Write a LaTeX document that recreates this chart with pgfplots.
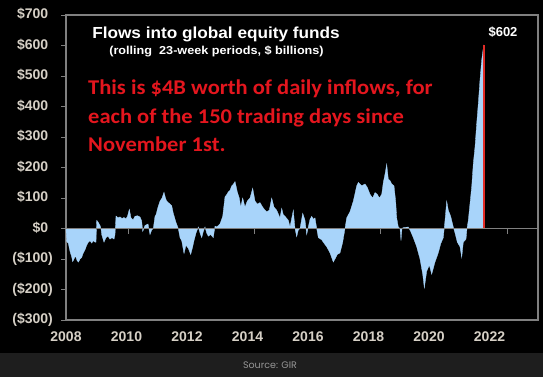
\documentclass[border=0pt]{standalone}
\usepackage{pgfplots}
\pgfplotsset{compat=1.18}
\usepackage{pgfplotstable}
\usepackage{graphicx}
\usepackage{fontspec}
\setmainfont{Liberation Sans}
\newfontfamily\calibri{Carlito}
\newfontfamily\srcfont{Poppins}
\definecolor{areablue}{RGB}{168,212,250}
\definecolor{framegray}{RGB}{128,128,128}
\definecolor{ticktext}{RGB}{214,208,198}
\definecolor{annotred}{RGB}{228,22,30}
\definecolor{strip}{RGB}{30,30,30}
\definecolor{srcgray}{RGB}{150,150,150}
\definecolor{barred}{RGB}{225,45,40}

\pgfplotstableread{
x y
2008.000 0
2008.023 -43
2008.076 -48
2008.132 -75
2008.188 -93
2008.221 -109
2008.264 -100
2008.314 -90
2008.364 -105
2008.413 -110
2008.463 -100
2008.519 -95
2008.572 -80
2008.628 -70
2008.684 -55
2008.737 -45
2008.793 -40
2008.850 -48
2008.902 -40
2008.959 -45
2008.992 -45
2009.015 27
2009.068 20
2009.124 10
2009.157 0
2009.180 -20
2009.256 -45
2009.322 -30
2009.388 -25
2009.455 -35
2009.521 -30
2009.587 -35
2009.620 -20
2009.653 41
2009.719 35
2009.785 38
2009.851 33
2009.917 36
2009.983 32
2010.033 40
2010.093 63
2010.149 35
2010.215 28
2010.281 40
2010.364 42
2010.446 38
2010.502 25
2010.536 -10
2010.612 10
2010.711 15
2010.777 -20
2010.833 -5
2010.886 0
2010.942 40
2010.975 45
2011.041 70
2011.107 90
2011.174 100
2011.240 119
2011.289 100
2011.329 90
2011.382 85
2011.438 80
2011.494 75
2011.547 50
2011.636 20
2011.712 0
2011.769 -30
2011.825 -40
2011.901 -82
2011.967 -55
2012.043 -65
2012.122 -85
2012.188 -60
2012.231 -40
2012.298 -15
2012.374 5
2012.430 -15
2012.486 -30
2012.539 -10
2012.595 5
2012.651 -15
2012.704 -25
2012.783 -20
2012.869 -30
2012.926 8
2012.982 5
2013.035 10
2013.091 15
2013.180 40
2013.256 104
2013.306 110
2013.365 120
2013.421 125
2013.478 140
2013.531 145
2013.587 154
2013.620 140
2013.663 120
2013.729 100
2013.775 70
2013.841 100
2013.917 70
2013.993 90
2014.083 100
2014.172 132
2014.248 90
2014.324 80
2014.413 85
2014.502 70
2014.579 60
2014.635 55
2014.721 60
2014.800 100
2014.876 70
2014.965 60
2015.074 35
2015.131 66
2015.183 45
2015.240 40
2015.349 27
2015.405 5
2015.455 30
2015.514 60
2015.570 0
2015.626 -27
2015.679 -5
2015.736 0
2015.825 50
2015.901 27
2015.957 -20
2016.010 5
2016.066 30
2016.122 40
2016.182 30
2016.231 35
2016.288 0
2016.341 -30
2016.453 -37
2016.506 -45
2016.618 -60
2016.727 -80
2016.836 -110
2016.893 -100
2016.969 -85
2017.058 -80
2017.147 -45
2017.223 0
2017.279 35
2017.388 55
2017.498 90
2017.610 140
2017.663 151
2017.775 140
2017.884 146
2017.960 135
2018.050 112
2018.139 100
2018.215 118
2018.291 112
2018.357 100
2018.436 112
2018.489 151
2018.545 178
2018.602 211
2018.655 162
2018.711 157
2018.767 146
2018.843 140
2018.899 88
2018.932 35
2018.985 5
2019.041 0
2019.074 -40
2019.107 0
2019.150 3
2019.316 5
2019.395 -10
2019.481 -30
2019.593 -60
2019.702 -100
2019.792 -150
2019.845 -195
2019.924 -140
2020.010 -120
2020.089 -150
2020.198 -110
2020.307 -80
2020.387 -50
2020.473 -30
2020.529 27
2020.585 90
2020.638 60
2020.717 40
2020.803 5
2020.860 -15
2020.936 -45
2021.025 -60
2021.081 -95
2021.134 -45
2021.223 -35
2021.256 0
2021.299 27
2021.355 82
2021.411 137
2021.464 213
2021.521 268
2021.577 345
2021.630 411
2021.686 488
2021.742 553
2021.785 585
2021.808 602
2021.808 0
}\flows

\begin{document}
\begin{tikzpicture}
\fill[black] (0pt,0pt) rectangle (543pt,-353pt);
\fill[strip] (0pt,-353pt) rectangle (543pt,-377pt);
\useasboundingbox (0pt,0pt) rectangle (543pt,-377pt);
\begin{axis}[
  at={(66pt,-320pt)}, anchor=south west,
  scale only axis, width=472pt, height=305pt,
  xmin=2008, xmax=2023.603, ymin=-300, ymax=700,
  axis line style={framegray, line width=1.5pt},
  xtick={2008,2010,2012,2014,2016,2018,2020,2022},
  xticklabels={2008,2010,2012,2014,2016,2018,2020,2022},
  ytick={-300,-200,-100,0,100,200,300,400,500,600,700},
  yticklabels={(\$300),(\$200),(\$100),\$0\phantom{)},\$100\phantom{)},\$200\phantom{)},\$300\phantom{)},\$400\phantom{)},\$500\phantom{)},\$600\phantom{)},\$700\phantom{)}},
  x tick style={draw=none},
  y tick style={framegray, line width=1pt},
  tick align=outside, ytick pos=left, xtick pos=bottom,
  major tick length=5pt,
  ticklabel style={font=\bfseries\fontsize{14}{16}\selectfont, text=ticktext},
  yticklabel style={anchor=east, inner sep=0pt, xshift=-8pt},
  xticklabel style={anchor=north, inner sep=0pt, yshift=-7pt},
  clip=false,
]
\addplot[fill=areablue, draw=areablue, line width=0.3pt] table[x=x,y=y]{\flows} -- cycle;
\addplot[barred, line width=2pt] coordinates {(2021.808,0) (2021.808,602)};
\end{axis}
\begin{axis}[
  at={(66pt,-320pt)}, anchor=south west,
  scale only axis, width=472pt, height=305pt,
  xmin=2008, xmax=2023.603, ymin=-300, ymax=700,
  axis x line=middle, axis y line=none,
  axis line style={framegray, line width=1.5pt, -},
  xtick={2010.05,2014.215,2018.41,2022.58},
  xticklabels={},
  ytick=\empty,
  tick align=outside, major tick length=5pt,
  x tick style={framegray, line width=1pt},
]
\addplot[draw=none] coordinates {(2008,0)};
\end{axis}
\node[anchor=base, text=white, font=\bfseries\fontsize{16}{18}\selectfont] at (216pt,-39pt) {\scalebox{1.075}[1]{Flows into global equity funds}};
\node[anchor=base, text=white, font=\bfseries\fontsize{11.5}{13}\selectfont] at (216.5pt,-55pt) {\scalebox{1.1}[1]{(rolling\ \ 23-week periods, \$ billions)}};
\node[anchor=base west, text=annotred, font=\calibri\bfseries\fontsize{21}{24}\selectfont, inner sep=0pt] at (88pt,-95pt) {\scalebox{1.072}[1]{This is \$4B worth of daily inflows, for}};
\node[anchor=base west, text=annotred, font=\calibri\bfseries\fontsize{21}{24}\selectfont, inner sep=0pt] at (88pt,-123.3pt) {\scalebox{1.072}[1]{each of the 150 trading days since}};
\node[anchor=base west, text=annotred, font=\calibri\bfseries\fontsize{21}{24}\selectfont, inner sep=0pt] at (88pt,-151.7pt) {\scalebox{1.072}[1]{November 1st.}};
\node[anchor=base, text=white, font=\bfseries\fontsize{13}{14}\selectfont] at (503pt,-37pt) {\$602};
\node[text=srcgray, font=\srcfont\fontsize{9.5}{11}\selectfont] at (270pt,-365pt) {Source: GIR};
\end{tikzpicture}
\end{document}
